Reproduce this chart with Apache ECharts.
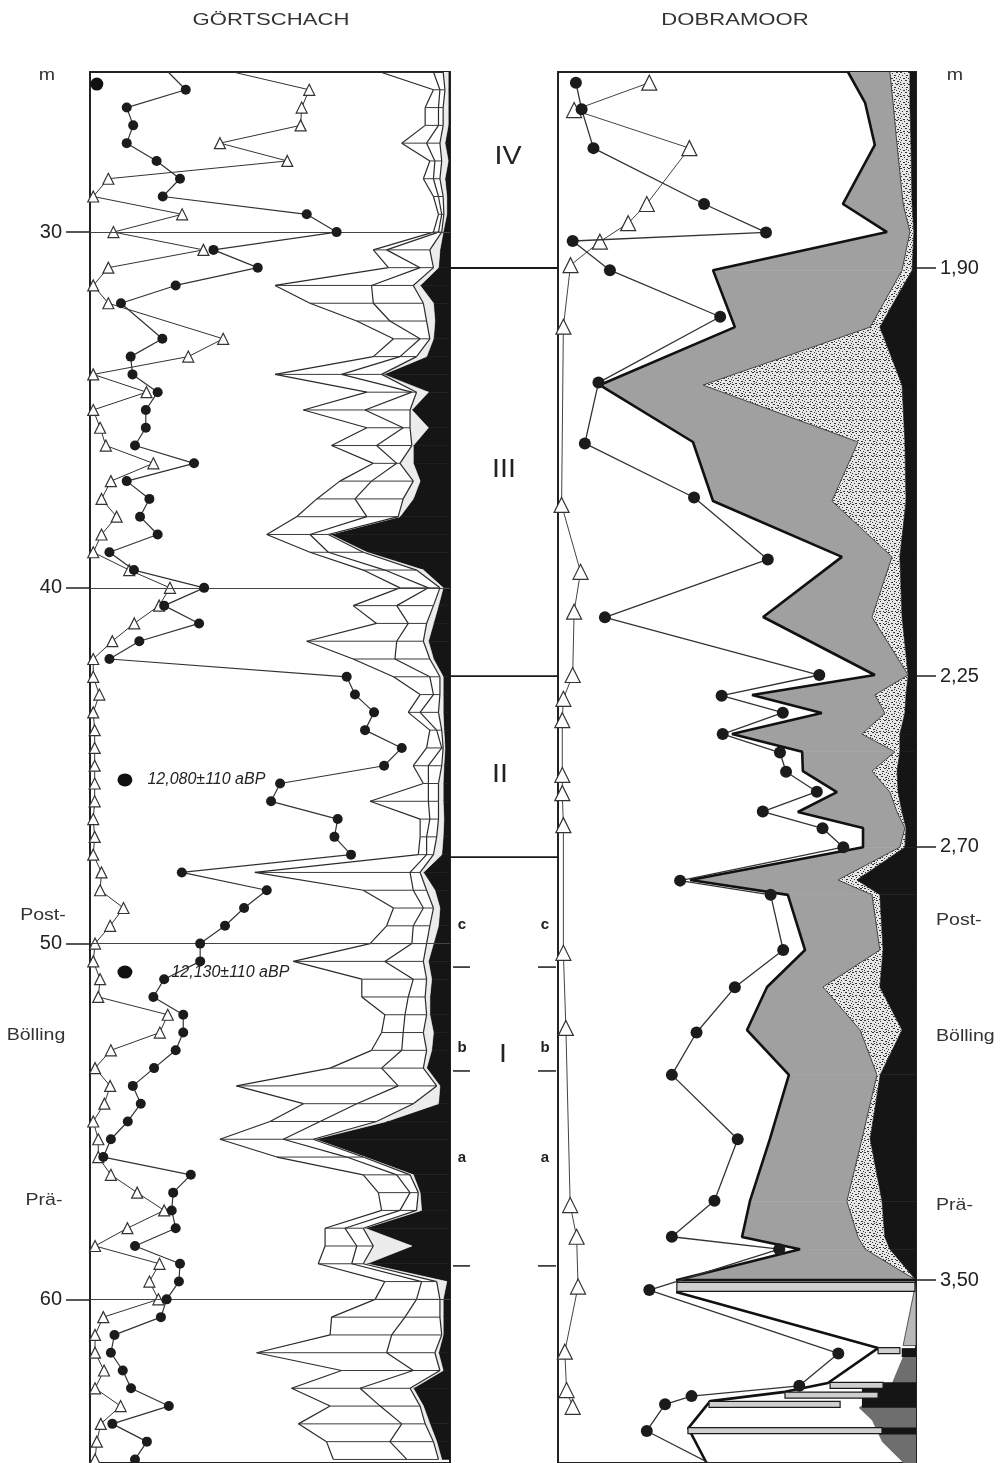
<!DOCTYPE html>
<html><head><meta charset="utf-8">
<script src="https://cdn.jsdelivr.net/npm/echarts@6/dist/echarts.min.js"></script>
<style>html,body{margin:0;padding:0;background:#fff}#c{width:1006px;height:1463px}</style>
</head><body><div id="c"></div><script>
// ---------------- GÖRTSCHACH (depth in m, samples every 0.5 m) ----------------
const gDepth = [25.5,26,26.5,27,27.5,28,28.5,29,29.5,30,30.5,31,31.5,32,32.5,33,33.5,34,34.5,35,35.5,36,36.5,37,37.5,38,38.5,39,39.5,40,40.5,41,41.5,42,42.5,43,43.5,44,44.5,45,45.5,46,46.5,47,47.5,48,48.5,49,49.5,50,50.5,51,51.5,52,52.5,53,53.5,54,54.5,55,55.5,56,56.5,57,57.5,58,58.5,59,59.5,60,60.5,61,61.5,62,62.5,63,63.5,64,64.5];
const gDots = [21.7,26.6,10.2,12.0,10.2,18.5,25.0,20.2,60.2,68.5,34.3,46.6,23.8,8.6,null,20.1,11.3,11.8,18.8,15.5,15.5,12.5,28.9,10.2,16.5,13.9,18.8,5.4,12.2,31.7,20.6,30.3,13.7,5.4,71.3,73.6,78.9,76.4,86.6,81.7,52.8,50.3,68.8,67.9,72.5,25.5,49.1,42.8,37.5,30.6,30.6,20.6,17.6,25.9,25.9,23.8,17.8,11.9,14.1,10.5,5.8,3.7,28.0,23.1,22.7,23.8,12.5,25.0,24.7,21.3,19.7,6.8,5.8,9.1,11.4,21.9,6.2,15.8,12.5];
const gTriangles = [39.7,60.9,58.8,58.5,36.1,54.8,5.1,0.9,25.6,6.5,31.5,5.1,0.9,5.1,null,37.0,27.3,0.9,15.7,0.9,2.8,4.4,17.6,5.8,3.2,7.4,3.2,0.9,10.9,22.2,19.2,12.3,6.2,0.9,0.9,2.6,0.9,1.3,1.3,1.3,1.3,1.3,0.9,1.3,0.9,3.2,2.8,9.3,5.6,1.4,0.9,2.8,2.3,21.6,19.4,5.8,1.4,5.6,4.0,0.9,2.3,2.3,5.8,13.1,20.6,10.4,1.4,19.3,16.5,19.0,3.7,1.4,1.4,3.9,1.4,8.5,3.0,1.9,1.4];
// stacked components, percent, counted from the right edge
const gBlack = [0.5,0.5,0.5,0.5,1.4,0.5,1.4,0.9,0.9,1.9,2.8,3.2,8.3,4.6,4.2,4.6,6.5,18.5,6.0,10.6,6.0,10.2,10.2,8.3,10.2,13.9,33.3,23.1,7.4,1.9,3.2,4.6,6.0,4.6,1.9,1.9,1.9,1.7,1.4,1.7,1.9,1.9,1.7,1.9,2.3,7.4,4.2,2.8,3.2,4.6,6.0,5.1,5.6,5.6,4.6,5.1,6.5,2.8,3.2,17.6,37.5,23.6,10.2,8.3,7.9,23.6,10.6,23.1,0.9,1.9,1.9,1.9,3.2,1.9,10.2,7.4,5.6,3.7,2.3];
const gGrey = [1.4,0.9,1.4,1.4,1.4,1.8,1.4,1.0,0.8,0.4,2.8,1.4,1.9,2.8,2.3,1.0,2.8,0.5,3.3,0.5,5.1,0.4,3.7,1.9,2.8,0.5,0.5,1.0,1.9,0.9,1.4,1.9,1.4,1.0,0.9,0.9,1.3,0.6,0.5,0.6,1.3,1.3,1.5,1.8,2.3,0.9,2.3,1.8,2.4,1.9,1.4,1.4,1.3,0.9,2.8,1.4,0.9,0.9,7.0,2.8,0.5,0.5,0.9,0.5,1.4,0.5,10.7,1.0,2.8,0.9,0.9,0.4,1.0,0.9,0.9,0.9,1.3,0.9,0.9];
const gInner = [2.7,1.4,1.3,1.3,3.7,1.9,1.8,1.3,0.6,0.9,12.0,3.7,11.6,13.9,10.2,2.7,4.6,11.1,1.3,12.5,1.9,9.8,0.9,11.6,13.4,8.7,5.1,9.7,8.8,3.2,10.2,5.1,7.4,9.7,2.8,1.8,5.1,1.4,0.4,3.7,2.8,2.8,2.4,2.8,1.9,2.8,3.7,2.8,4.6,4.1,10.7,3.7,4.7,6.0,5.6,6.9,11.6,10.7,15.7,15.7,8.3,4.6,3.7,2.3,4.6,5.1,4.6,3.2,4.2,6.5,9.7,13.9,13.4,7.4,13.9,11.1,6.5,12.1,8.8];
const gOuter = [14.8,1.8,3.7,3.7,6.9,1.4,2.8,1.4,0.9,1.4,3.7,8.8,26.8,17.6,9.2,7.4,7.4,18.5,12.5,17.1,10.1,12.5,6.5,8.8,10.6,19.5,12.0,5.1,6.0,7.9,12.1,8.8,25.0,11.6,10.1,3.7,3.3,1.9,4.2,4.2,1.4,16.2,2.7,1.8,2.3,43.1,13.9,8.3,7.4,11.6,25.4,14.3,12.9,5.6,6.0,8.4,14.3,44.9,14.8,13.9,17.6,19.4,9.3,8.8,5.1,5.5,8.8,9.3,10.2,11.5,20.4,17.1,36.1,19.9,19.0,13.9,28.7,17.6,20.4];
const gTicks = [30,40,50,60];
const gDatingDepth = [45.40, 50.80];
const gDatingX = [9.7, 9.7];
const gDatingText = ['12,080\u00b1110 aBP','12,130\u00b1110 aBP'];
const gMarkerTop = [1.9, 25.84];

// ---------------- DOBRAMOOR (plotted on the correlated scale) ----------------
const dobTickPos = [31.01, 42.48, 47.28, 59.46];
const dobTickLabels = ['1,90','2,25','2,70','3,50'];
const dobDotPos = [25.80,26.55,27.64,29.21,30.01,30.25,31.07,32.38,34.23,35.94,37.46,39.20,40.83,42.45,43.03,43.51,44.11,44.63,45.17,45.73,46.29,46.76,47.29,48.23,48.63,50.18,51.23,52.50,53.69,55.50,57.23,58.24,58.59,59.74,61.52,62.43,62.72,62.95,63.70,64.90];
const dobDotVal = [5.0,6.6,9.9,40.8,58.1,4.1,14.5,45.3,11.3,7.5,38.0,58.6,13.1,73.0,45.7,62.8,46.0,62.0,63.7,72.3,57.2,73.9,79.7,34.1,59.4,62.9,49.4,38.7,31.8,50.2,43.7,31.8,61.8,25.5,78.3,67.4,37.3,29.9,24.8,48.0];
const dobTriPos = [25.80,26.57,27.64,29.21,29.75,30.27,30.93,32.66,37.67,39.55,40.67,42.45,43.12,43.72,45.26,45.77,46.67,50.26,52.37,57.35,58.24,59.64,61.47,62.55,63.02];
const dobTriVal = [25.5,4.5,36.7,24.8,19.6,11.7,3.5,1.5,1.0,6.3,4.5,4.1,1.5,1.2,1.2,1.2,1.5,1.5,2.2,3.4,5.2,5.6,1.9,2.4,4.1];
const dobLevel = [25.50,26.37,27.55,29.21,30.00,31.07,32.67,34.30,35.90,37.56,39.13,40.82,42.45,43.01,43.52,44.11,44.61,45.15,45.74,46.30,46.75,47.29,48.21,48.63,50.18,51.22,52.43,53.69,55.49,57.24,58.25,58.59,59.46];
const dobGreyLeft = [81.0,85.8,88.5,79.6,91.9,43.3,49.4,11.7,37.7,43.3,79.3,57.3,88.5,54.2,73.7,48.6,68.2,68.4,77.9,67.0,85.2,85.2,36.9,64.2,69.0,58.4,52.8,64.5,59.2,53.6,51.4,67.6,33.0];
const dobStippleLeft = [92.7,93.6,94.7,96.4,98.3,96.1,87.2,40.5,83.8,76.5,93.3,87.7,97.8,88.5,91.3,84.9,94.1,87.7,92.7,94.7,96.9,95.5,78.2,87.7,89.9,74.0,84.4,89.1,84.9,80.7,83.8,85.8,100];
const dobBlackLeft = [98.3,98.3,98.6,98.9,99.4,98.9,89.9,96.1,96.9,97.2,95.5,96.1,97.8,97.2,96.9,95.5,95.5,94.7,95.0,96.1,97.2,96.9,83.5,89.9,90.8,89.9,96.1,90.0,87.2,90.5,91.3,92.7,100];
const dobLowerOutline = [[33.0,59.79],[89.4,61.37],[75.4,62.35],[63.4,62.60],[42.5,62.86],[36.4,63.62],[41.5,64.6]];
const dobBars = [[59.65,33.2,99.7],[61.44,89.4,95.5],[62.42,76.0,90.8],[62.69,63.4,89.4],[62.95,42.2,78.8],[63.69,36.3,90.5]];
const dobLowLight = [[100,59.51],[96.4,61.30],[100,61.30]];
const dobLowDark = [[97.0,61.45],[93.3,62.35],[84.0,63.05],[87.7,63.40],[90.5,64.00],[96.5,64.60],[100,64.60],[100,61.45]];
const dobLowBlack = [
  [[96,61.37],[100,61.37],[100,61.62],[96,61.62]],
  [[84.9,62.33],[100,62.33],[100,63.05],[84.9,63.05]],
  [[89.9,63.60],[100,63.60],[100,63.80],[89.9,63.80]]
];

// ---------------- zones ----------------
const zoneBounds = [31.01, 42.48, 47.57];
const zoneNames = ['IV','III','II','I'];
const zoneNamePos = [27.89, 36.69, 45.26, 53.13];
const zoneNameX = [53.7, 50.0, 46.3, 49.0];
const subBounds = [50.66, 53.58, 59.06];
const subNames = ['c','b','a'];
const subNamePos = [49.48, 52.94, 56.03];

const Y0 = 25.5, Y1 = 64.6;
const FONT = "'Liberation Sans', Arial, sans-serif";

// stipple pattern (fixed dot layout)
const pat = document.createElement('canvas');
pat.width = 12; pat.height = 12;
(function(){
  const c = pat.getContext('2d');
  c.fillStyle = '#e6e6e6'; c.fillRect(0,0,12,12);
  c.fillStyle = '#333';
  [[0,0,2],[4,1,1],[8,0,2],[11,2,1],[2,3,1],[6,3,2],[10,4,1],[0,5,1],[3,6,2],[8,6,1],[11,7,1],[1,8,1],[5,8,2],[9,9,2],[0,10,1],[3,11,2],[7,11,1],[6,5,1],[10,11,1]]
    .forEach(p => c.fillRect(p[0], p[1], p[2], 1));
})();
const stipple = {image: pat, repeat: 'repeat'};

function gBounds(i){
  const x4 = 100 - gBlack[i];
  const x3 = x4 - gGrey[i];
  const x2 = x3 - gInner[i];
  const x1 = x2 - gOuter[i];
  return [x1,x2,x3,x4];
}
function renderGFill(params, api){
  const i = params.dataIndex;
  if (i >= gDepth.length - 1) return null;
  const a = gBounds(i), b = gBounds(i+1), d0 = gDepth[i], d1 = gDepth[i+1];
  const P = (x,d) => api.coord([x,d]);
  const q = (a0,a1,b0,b1) => [P(a0,d0),P(a1,d0),P(b1,d1),P(b0,d1)];
  return {type:'group', children:[
    {type:'polygon', shape:{points:q(a[3],100,b[3],100)}, style:{fill:'#151515', stroke:'#151515', lineWidth:0.6}},
    {type:'polygon', shape:{points:q(a[2],a[3],b[2],b[3])}, style:{fill:'#ececec', stroke:'#ececec', lineWidth:0.6}}
  ]};
}
function renderGLines(params, api){
  const i = params.dataIndex;
  const a = gBounds(i), d0 = gDepth[i];
  const P = (x,d) => api.coord([x,d]);
  const ch = [{type:'line', shape:{x1:P(a[0],d0)[0], y1:P(a[0],d0)[1], x2:P(a[2],d0)[0], y2:P(a[2],d0)[1]}, style:{stroke:'#3a3a3a', lineWidth:1}}];
  if (i < gDepth.length - 1) {
    const b = gBounds(i+1), d1 = gDepth[i+1];
    for (let k = 0; k < 3; k++) {
      ch.push({type:'polyline', shape:{points:[P(a[k],d0),P(b[k],d1)]}, style:{stroke:'#2a2a2a', lineWidth:1.2, fill:null}});
    }
  }
  return {type:'group', children:ch};
}
function renderDobFill(params, api){
  const i = params.dataIndex;
  if (i >= dobLevel.length - 1) return null;
  const d0 = dobLevel[i], d1 = dobLevel[i+1];
  const P = (x,d) => api.coord([x,d]);
  const q = (a0,a1,b0,b1) => [P(a0,d0),P(a1,d0),P(b1,d1),P(b0,d1)];
  return {type:'group', children:[
    {type:'polygon', shape:{points:q(dobGreyLeft[i],dobStippleLeft[i],dobGreyLeft[i+1],dobStippleLeft[i+1])}, style:{fill:'#a0a0a0', stroke:'#a0a0a0', lineWidth:0.6}},
    {type:'polygon', shape:{points:q(dobStippleLeft[i],dobBlackLeft[i],dobStippleLeft[i+1],dobBlackLeft[i+1])}, style:{fill:stipple}},
    {type:'polygon', shape:{points:q(dobBlackLeft[i],100,dobBlackLeft[i+1],100)}, style:{fill:'#151515', stroke:'#151515', lineWidth:0.6}},
    {type:'polyline', shape:{points:[P(dobStippleLeft[i],d0),P(dobStippleLeft[i+1],d1)]}, style:{stroke:'#444', lineWidth:1, fill:null}}
  ]};
}
function renderDobLow(params, api){
  const P = p => api.coord(p);
  const ch = [
    {type:'polygon', shape:{points:dobLowLight.map(P)}, style:{fill:'#b8b8b8', stroke:'#333', lineWidth:0.8}},
    {type:'polygon', shape:{points:dobLowDark.map(P)}, style:{fill:'#6e6e6e'}}
  ];
  dobLowBlack.forEach(poly => ch.push({type:'polygon', shape:{points:poly.map(P)}, style:{fill:'#151515'}}));
  return {type:'group', children:ch};
}
function renderDobBar(params, api){
  const b = dobBars[params.dataIndex];
  const p0 = api.coord([b[1], b[0]]), p1 = api.coord([b[2], b[0]]);
  const h = params.dataIndex === 0 ? 9 : 6;
  return {type:'rect', shape:{x:p0[0], y:p0[1]-h/2, width:p1[0]-p0[0], height:h}, style:{fill:'#cfcfcf', stroke:'#1a1a1a', lineWidth:1.2}};
}
function renderZone(params, api){
  const d = zoneBounds[params.dataIndex];
  const a = api.coord([0,d]), b = api.coord([100,d]);
  return {type:'line', shape:{x1:a[0], y1:a[1], x2:b[0], y2:b[1]}, style:{stroke:'#1a1a1a', lineWidth:1.8}};
}
function renderSub(params, api){
  const d = subBounds[params.dataIndex];
  const s = (x0,x1) => { const a = api.coord([x0,d]), b = api.coord([x1,d]); return {type:'line', shape:{x1:a[0],y1:a[1],x2:b[0],y2:b[1]}, style:{stroke:'#1a1a1a', lineWidth:1.5}}; };
  return {type:'group', children:[s(2.8,18.5), s(81.5,98.1)]};
}
function renderZoneName(params, api){
  const i = params.dataIndex;
  const p = api.coord([zoneNameX[i], zoneNamePos[i]]);
  return {type:'text', x:p[0], y:p[1], scaleX:1.1, style:{text:zoneNames[i], fill:'#222', font:'26px ' + FONT, align:'center', verticalAlign:'middle'}};
}
function renderSubName(params, api){
  const i = params.dataIndex;
  const a = api.coord([11.1, subNamePos[i]]), b = api.coord([88.0, subNamePos[i]]);
  const st = {text:subNames[i], fill:'#222', font:'bold 15px ' + FONT, align:'center', verticalAlign:'middle'};
  return {type:'group', children:[{type:'text', x:a[0], y:a[1], style:st}, {type:'text', x:b[0], y:b[1], style:Object.assign({}, st)}]};
}

// the first sample sits on the top frame edge: line only, no marker
const edgeItem = (v, i) => i === 0 ? {value:v, symbol:'none'} : v;
const gDotData = gDepth.map((d,i) => gDots[i] == null ? null : edgeItem([gDots[i], d], i)).filter(Boolean);
const gTriData = gDepth.map((d,i) => gTriangles[i] == null ? null : edgeItem([gTriangles[i], d], i)).filter(Boolean);
const dobDotData = dobDotPos.map((d,i) => [dobDotVal[i], d]);
const dobTriData = dobTriPos.map((d,i) => [dobTriVal[i], d]);
const dobOutlineData = dobLevel.map((d,i) => [dobGreyLeft[i], d]).concat([[100, dobLevel[dobLevel.length-1]]]);

const labelStyle = {fontSize:20, color:'#222', fontFamily:FONT};
const txt = (x, y, s, align, sx) => ({type:'text', x:x, y:y, scaleX:sx || 1.15, style:{text:s, font:'17px ' + FONT, fill:'#333', align:align || 'center', verticalAlign:'middle'}});
const option = {
  animation: false,
  backgroundColor: '#fff',
  grid: [
    {left:90, top:72, width:360, height:1391, show:true, borderColor:'#222', borderWidth:2, backgroundColor:'transparent'},
    {left:558, top:72, width:358, height:1391, show:true, borderColor:'#222', borderWidth:2, backgroundColor:'transparent'},
    {left:450, top:72, width:108, height:1391, show:false}
  ],
  xAxis: [0,1,2].map(i => ({type:'value', gridIndex:i, min:0, max:100, show:false})),
  yAxis: [
    {type:'value', gridIndex:0, min:Y0, max:Y1, inverse:true, position:'left',
     axisLine:{show:false, onZero:false}, splitLine:{show:false},
     axisTick:{show:true, length:24, customValues:gTicks, lineStyle:{color:'#222', width:1.5}},
     axisLabel:Object.assign({customValues:gTicks, margin:28}, labelStyle)},
    {type:'value', gridIndex:1, min:Y0, max:Y1, inverse:true, position:'right',
     axisLine:{show:false, onZero:false}, splitLine:{show:false},
     axisTick:{show:true, length:20, customValues:dobTickPos, lineStyle:{color:'#222', width:1.5}},
     axisLabel:Object.assign({customValues:dobTickPos, margin:24,
       formatter: v => { let k = 0, best = 1e9; dobTickPos.forEach((p,i) => { const e = Math.abs(p - v); if (e < best) { best = e; k = i; } }); return dobTickLabels[k]; }}, labelStyle)},
    {type:'value', gridIndex:2, min:Y0, max:Y1, inverse:true, show:false}
  ],
  graphic: [
    txt(271, 20, 'GÖRTSCHACH', 'center', 1.3),
    txt(735, 20, 'DOBRAMOOR', 'center', 1.3),
    txt(47, 75, 'm'),
    txt(955, 75, 'm'),
    txt(43, 915, 'Post-'),
    txt(36, 1035, 'Bölling'),
    txt(44, 1200, 'Prä-'),
    txt(936, 920, 'Post-', 'left'),
    txt(936, 1036, 'Bölling', 'left'),
    txt(936, 1205, 'Prä-', 'left')
  ],
  series: [
    // ---- Görtschach ----
    {type:'custom', name:'gFill', xAxisIndex:0, yAxisIndex:0, silent:true, clip:true, z:1,
     renderItem:renderGFill, data:gDepth.map(d => [0,d])},
    {type:'custom', name:'gLines', xAxisIndex:0, yAxisIndex:0, silent:true, clip:true, z:2,
     renderItem:renderGLines, data:gDepth.map(d => [0,d])},
    {type:'line', name:'gTri', xAxisIndex:0, yAxisIndex:0, data:gTriData, symbol:'triangle', symbolSize:11,
     lineStyle:{color:'#333', width:1}, itemStyle:{color:'#fff', borderColor:'#333', borderWidth:1.2}, z:4, silent:true},
    {type:'line', name:'gDots', xAxisIndex:0, yAxisIndex:0, data:gDotData, symbol:'circle', symbolSize:10,
     lineStyle:{color:'#333', width:1.2}, itemStyle:{color:'#1b1b1b', borderWidth:0}, z:5, silent:true,
     markLine:{silent:true, symbol:'none', label:{show:false}, lineStyle:{color:'#444', width:1, type:'solid'},
       data:gTicks.map(v => ({yAxis:v}))}},
    {type:'scatter', name:'gDating', xAxisIndex:0, yAxisIndex:0, symbol:'circle', symbolSize:[15,13], z:6, silent:true,
     itemStyle:{color:'#111', opacity:1},
     data:gDatingDepth.map((d,i) => ({value:[gDatingX[i], d], label:{show:true, position:'right', distance: i === 0 ? 15 : 39, formatter: gDatingText[i], fontStyle:'italic', fontSize:16, color:'#222', fontFamily:FONT}})).concat([{value:gMarkerTop, symbolSize:[13,13], label:{show:false}}])},
    // ---- Dobramoor ----
    {type:'custom', name:'dobFill', xAxisIndex:1, yAxisIndex:1, silent:true, clip:true, z:1,
     renderItem:renderDobFill, data:dobLevel.map(d => [0,d])},
    {type:'custom', name:'dobLow', xAxisIndex:1, yAxisIndex:1, silent:true, clip:true, z:1,
     renderItem:renderDobLow, data:[[0,Y0]]},
    {type:'line', name:'dobOutline', xAxisIndex:1, yAxisIndex:1, data:dobOutlineData, symbol:'none',
     lineStyle:{color:'#111', width:2.6}, z:3, silent:true},
    {type:'line', name:'dobLowerOutline', xAxisIndex:1, yAxisIndex:1, data:dobLowerOutline, symbol:'none',
     lineStyle:{color:'#111', width:2.6}, z:3, silent:true},
    {type:'custom', name:'dobBars', xAxisIndex:1, yAxisIndex:1, silent:true, clip:true, z:4,
     renderItem:renderDobBar, data:dobBars.map(b => [b[1], b[0]])},
    {type:'line', name:'dobTri', xAxisIndex:1, yAxisIndex:1, data:dobTriData, symbol:'triangle', symbolSize:15,
     lineStyle:{color:'#444', width:1}, itemStyle:{color:'#fff', borderColor:'#333', borderWidth:1.2}, z:5, silent:true},
    {type:'line', name:'dobDots', xAxisIndex:1, yAxisIndex:1, data:dobDotData, symbol:'circle', symbolSize:12,
     lineStyle:{color:'#333', width:1.3}, itemStyle:{color:'#1b1b1b', borderWidth:0}, z:6, silent:true},
    // ---- zones ----
    {type:'custom', name:'zones', xAxisIndex:2, yAxisIndex:2, silent:true, renderItem:renderZone, data:zoneBounds.map(d => [0,d])},
    {type:'custom', name:'subZones', xAxisIndex:2, yAxisIndex:2, silent:true, renderItem:renderSub, data:subBounds.map(d => [0,d])},
    {type:'custom', name:'zoneNames', xAxisIndex:2, yAxisIndex:2, silent:true, renderItem:renderZoneName, data:zoneNamePos.map((d,i) => [zoneNameX[i],d])},
    {type:'custom', name:'subNames', xAxisIndex:2, yAxisIndex:2, silent:true, renderItem:renderSubName, data:subNamePos.map(d => [0,d])}
  ]
};
const chart = echarts.init(document.getElementById('c'), null, {renderer:'canvas', width:1006, height:1463});
chart.setOption(option);
</script></body></html>
